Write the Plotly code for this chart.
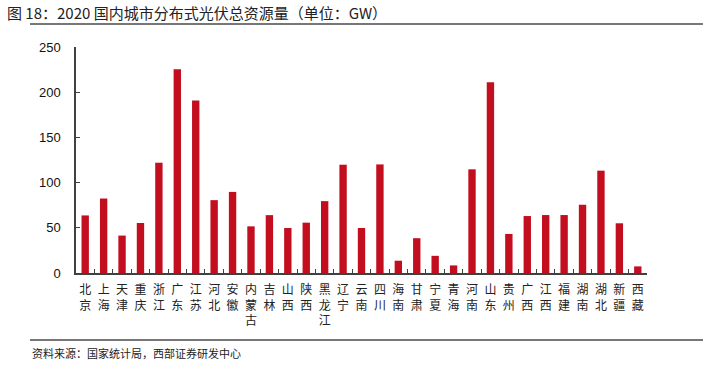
import plotly.graph_objects as go

provinces = ["北京", "上海", "天津", "重庆", "浙江", "广东", "江苏", "河北", "安徽", "内蒙古",
             "吉林", "山西", "陕西", "黑龙江", "辽宁", "云南", "四川", "海南", "甘肃", "宁夏",
             "青海", "河南", "山东", "贵州", "广西", "江西", "福建", "湖南", "湖北", "新疆", "西藏"]
values = [63.7, 82.4, 41.4, 55.3, 122.0, 225.3, 190.8, 80.6, 89.7, 51.6,
          64.0, 49.8, 55.7, 79.5, 119.8, 49.8, 120.1, 13.6, 38.5, 19.0,
          8.4, 114.7, 211.0, 43.2, 63.0, 64.1, 64.1, 75.5, 113.2, 55.0, 7.3]
y_ticks = [0, 50, 100, 150, 200, 250]

title_text = "图 18：2020 国内城市分布式光伏总资源量（单位：GW）"
source_text = "资料来源：国家统计局，西部证券研发中心"

tick_text = ["<br>".join(list(p)) for p in provinces]

W, H = 703, 367
L, T = 76, 47
R = W - 647
B = H - 273
pw, ph = W - L - R, H - T - B

def px(x):
    return (x - L) / pw

def py(y):
    return (H - B - y) / ph

fig = go.Figure()
fig.add_trace(go.Bar(x=provinces, y=values, marker=dict(color="#C20E1F", line=dict(width=0)),
                     width=0.4))

font_cjk = "Noto Sans CJK SC"
fig.update_layout(
    width=W, height=H,
    margin=dict(l=L, r=R, t=T, b=B, pad=0, autoexpand=False),
    paper_bgcolor="white", plot_bgcolor="white",
    showlegend=False,
    bargap=0.6,
    xaxis=dict(
        type="category", automargin=False,
        tickmode="array", tickvals=provinces, ticktext=tick_text,
        tickson="boundaries", ticks="inside", ticklen=4, tickcolor="#404040",
        showline=True, linecolor="#404040", linewidth=1.5,
        showgrid=False, zeroline=False,
        tickfont=dict(family=font_cjk, size=12, color="#222"),
        tickangle=0, ticklabelstandoff=5,
        range=[-0.5, len(provinces) - 0.5],
    ),
    yaxis=dict(
        range=[0, 250], tickmode="array", tickvals=y_ticks, automargin=False,
        ticks="inside", ticklen=4, tickcolor="#404040",
        showline=True, linecolor="#404040", linewidth=1.5,
        showgrid=False, zeroline=False, ticklabelstandoff=11,
        tickfont=dict(family="Liberation Sans, Arial", size=13, color="#111"),
    ),
    annotations=[
        dict(text=title_text, xref="paper", yref="paper", x=px(5), y=py(12.5),
             xanchor="left", yanchor="middle", showarrow=False,
             font=dict(family=font_cjk, size=15, color="#222")),
        dict(text=source_text, xref="paper", yref="paper", x=px(30), y=py(353),
             xanchor="left", yanchor="middle", showarrow=False,
             font=dict(family=font_cjk, size=11, color="#222")),
    ],
    shapes=[
        dict(type="line", xref="paper", yref="paper", x0=px(30), x1=px(703), y0=py(24), y1=py(24),
             line=dict(color="#777", width=2)),
        dict(type="line", xref="paper", yref="paper", x0=px(30), x1=px(703), y0=py(340), y1=py(340),
             line=dict(color="#777", width=2)),
    ],
)

fig.write_html("out.html", config={"displayModeBar": False},
               post_script="document.body.style.margin='0';")
